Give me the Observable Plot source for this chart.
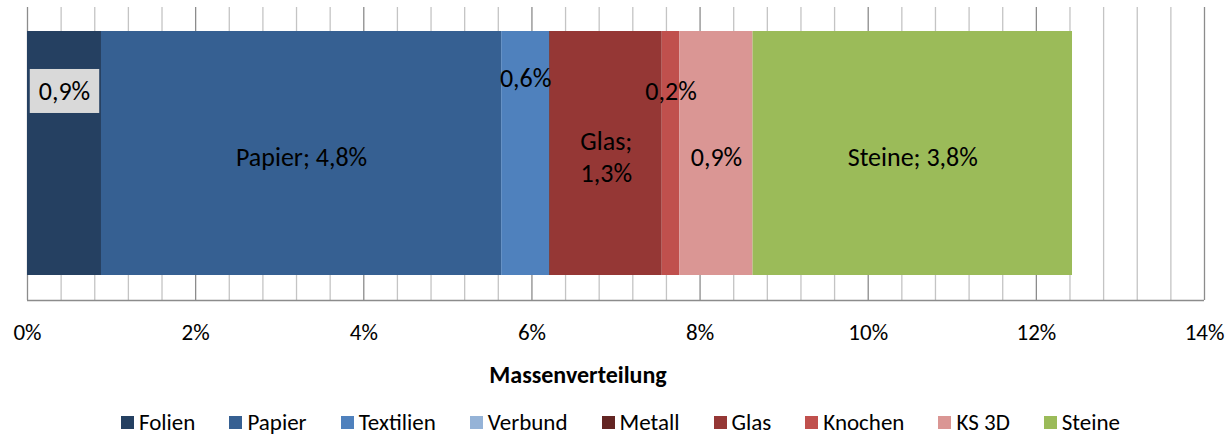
<!DOCTYPE html>
<html>
<head>
<meta charset="utf-8">
<script src="https://cdn.jsdelivr.net/npm/d3@7"></script>
<script src="https://cdn.jsdelivr.net/npm/@observablehq/plot@0.6"></script>
<style>
  body { margin: 0; background: #fff; font-family: Carlito, Calibri, Lato, sans-serif; }
  #chart svg { display: block; font-family: Carlito, Calibri, Lato, sans-serif; }
  #legend {
    display: flex; justify-content: center; align-items: center;
    height: 44px; padding-left: 14px; box-sizing: border-box;
    font-size: 23px; color: #000;
  }
  #legend .item { display: flex; align-items: center; margin: 0 17px; }
  #legend .sw { width: 13px; height: 13px; margin-right: 5px; }
</style>
</head>
<body>
<div id="chart"></div>
<div id="legend"></div>
<script>
// Material fractions (share of total mass, in %)
const categories = ["Folien", "Papier", "Textilien", "Verbund", "Metall", "Glas", "Knochen", "KS 3D", "Steine"];
const shares = [0.88, 4.76, 0.57, 0, 0.01, 1.33, 0.21, 0.87, 3.80];
const colors = ["#254061", "#366092", "#4f81bd", "#95b3d7", "#632523", "#953735", "#c0504d", "#da9694", "#9bbb59"];
const xTicks = [0, 2, 4, 6, 8, 10, 12, 14];
const axisTitle = "Massenverteilung";

const data = categories.map((cat, i) => ({cat, value: shares[i]}));

const fmt = v => v.toFixed(1).replace(".", ",") + "%";
// which labels carry the category name, and how they are split
const labelText = d => {
  if (d.cat === "Papier" || d.cat === "Steine") return `${d.cat}; ${fmt(d.value)}`;
  if (d.cat === "Glas") return `${d.cat};\n${fmt(d.value)}`;
  return fmt(d.value);
};

// label groups by vertical offset (keeps narrow labels apart)
const labelGroups = [
  {cats: ["Papier", "Glas", "KS 3D", "Steine"], dy: 2},
  {cats: ["Knochen"], dy: -64},
  {cats: ["Textilien"], dy: -77},
  {cats: ["Folien"], dy: -64, className: "boxed-label"}
];

const minorGrid = d3.range(36).map(i => +(i * 0.4).toFixed(1)).filter(v => !xTicks.includes(v));

const labelMarks = labelGroups.map(g =>
  Plot.text(data, Plot.stackX({
    x: "value",
    text: d => g.cats.includes(d.cat) ? labelText(d) : "",
    dy: g.dy,
    fontSize: 26,
    lineHeight: 1.2,
    fill: "#000",
    className: g.className
  }))
);

const chart = Plot.plot({
  width: 1227,
  height: 400,
  marginLeft: 27,
  marginRight: 23,
  marginTop: 7,
  marginBottom: 100,
  style: {fontFamily: "Carlito, Calibri, Lato, sans-serif", background: "#fff"},
  x: {domain: [0, 14]},
  y: {domain: [0, 1], axis: null},
  color: {domain: categories, range: colors},
  marks: [
    Plot.ruleX(minorGrid, {stroke: "#c4c4c4", strokeWidth: 1.3}),
    Plot.ruleX(xTicks, {stroke: "#8c8c8c", strokeWidth: 1.3}),
    Plot.barX(data, Plot.stackX({x: "value", fill: "cat", insetTop: 24, insetBottom: 25})),
    Plot.ruleY([0], {stroke: "#8c8c8c", strokeWidth: 1.5}),
    ...labelMarks,
    Plot.axisX({
      ticks: xTicks,
      tickFormat: d => d + "%",
      tickSize: 0,
      tickPadding: 23,
      fontSize: 23,
      label: null,
      fill: "#000"
    }),
    Plot.text([axisTitle], {
      frameAnchor: "bottom",
      dy: 82,
      dx: -38,
      fontSize: 24,
      fontWeight: "bold",
      fill: "#000"
    })
  ]
});

document.getElementById("chart").appendChild(chart);

// grey box behind the first label
d3.select(chart).selectAll(".boxed-label text").each(function () {
  if (!this.textContent) return;
  const b = this.getBBox();
  const padX = 9, padY = 6;
  d3.select(this.parentNode).insert("rect", () => this)
    .attr("x", b.x - padX).attr("y", b.y - padY)
    .attr("width", b.width + 2 * padX).attr("height", b.height + 2 * padY)
    .attr("fill", "#d9d9d9")
    .attr("transform", this.getAttribute("transform"));
});

// legend row
const legend = d3.select("#legend");
categories.forEach((c, i) => {
  const item = legend.append("div").attr("class", "item");
  item.append("div").attr("class", "sw").style("background", colors[i]);
  item.append("span").text(c);
});
</script>
</body>
</html>
